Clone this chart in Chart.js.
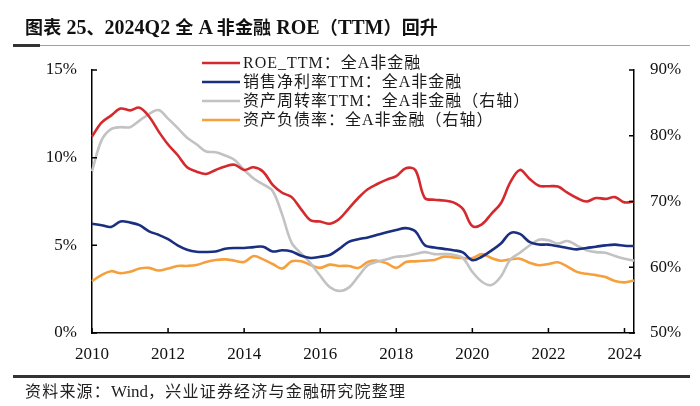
<!DOCTYPE html>
<html><head><meta charset="utf-8">
<script src="https://cdn.jsdelivr.net/npm/chart.js@4/dist/chart.umd.min.js"></script>
<style>
html,body{margin:0;padding:0;background:#fff;}
#wrap{position:relative;width:700px;height:406px;overflow:hidden;}
#c{position:absolute;left:0;top:0;}
#title{position:absolute;left:25px;top:13px;font:bold 20px 'Liberation Serif','Noto Sans CJK SC';line-height:26px;color:#111;white-space:nowrap;word-spacing:0px;}
#title .c{font:bold 18px 'Noto Sans CJK SC';letter-spacing:0.2px;}
#src{position:absolute;left:25px;top:378px;font:17px 'Liberation Serif','Noto Sans CJK SC';line-height:22px;color:#222;white-space:nowrap;}
#src .c{font:16px 'Noto Sans CJK SC';letter-spacing:1.2px;}
.ln{position:absolute;}
</style></head>
<body><div id="wrap">
<canvas id="c" width="700" height="406"></canvas>
<div id="title"><span class="c">图表</span> 25<span class="c">、</span>2024Q2 <span class="c">全</span> A <span class="c">非金融</span> ROE<span class="c">（</span>TTM<span class="c">）回升</span></div>
<div class="ln" style="left:40px;top:44.5px;width:650px;height:1.3px;background:#a0a0a0"></div>
<div class="ln" style="left:13px;top:43.5px;width:27px;height:3px;background:#333"></div>
<div class="ln" style="left:13px;top:375px;width:677px;height:2.7px;background:#333"></div>
<div id="src"><span class="c">资料来源：</span>Wind<span class="c">，兴业证券经济与金融研究院整理</span></div>
</div>
<script>
const quarters = ['2010Q1','2010Q2','2010Q3','2010Q4','2011Q1','2011Q2','2011Q3','2011Q4','2012Q1','2012Q2','2012Q3','2012Q4','2013Q1','2013Q2','2013Q3','2013Q4','2014Q1','2014Q2','2014Q3','2014Q4','2015Q1','2015Q2','2015Q3','2015Q4','2016Q1','2016Q2','2016Q3','2016Q4','2017Q1','2017Q2','2017Q3','2017Q4','2018Q1','2018Q2','2018Q3','2018Q4','2019Q1','2019Q2','2019Q3','2019Q4','2020Q1','2020Q2','2020Q3','2020Q4','2021Q1','2021Q2','2021Q3','2021Q4','2022Q1','2022Q2','2022Q3','2022Q4','2023Q1','2023Q2','2023Q3','2023Q4','2024Q1','2024Q2'];
const xTickYears = ['2010','2012','2014','2016','2018','2020','2022','2024'];
const roeTTM = [11.2,12.0,12.4,12.8,12.7,12.85,12.35,11.5,10.75,10.15,9.45,9.2,9.07,9.3,9.5,9.6,9.3,9.45,9.2,8.45,8.0,7.75,7.05,6.42,6.36,6.23,6.5,7.1,7.7,8.2,8.5,8.75,8.95,9.4,9.3,7.7,7.6,7.56,7.45,7.08,6.1,6.2,6.8,7.4,8.6,9.3,8.8,8.4,8.37,8.35,8.0,7.7,7.5,7.7,7.65,7.75,7.45,7.5];
const netMarginTTM = [6.23,6.15,6.05,6.36,6.3,6.15,5.8,5.6,5.35,5.0,4.75,4.63,4.62,4.65,4.8,4.85,4.85,4.9,4.92,4.65,4.72,4.65,4.4,4.28,4.35,4.45,4.8,5.2,5.35,5.45,5.6,5.75,5.88,5.98,5.8,5.0,4.88,4.8,4.72,4.6,4.15,4.35,4.7,5.1,5.7,5.65,5.2,5.05,5.04,4.95,4.85,4.77,4.85,4.92,5.0,5.04,4.98,4.96];
const assetTurnoverTTM = [74.6,79.3,81.0,81.3,81.3,82.3,83.3,83.9,82.6,81.2,79.7,78.7,77.6,77.5,77.0,76.3,74.8,73.5,72.6,71.6,68.0,63.7,62.1,60.6,58.7,57.0,56.4,56.9,58.6,60.3,60.85,61.2,61.6,61.7,62.0,62.3,62.0,62.0,61.9,61.4,59.3,57.8,57.3,58.6,61.2,62.2,63.3,64.2,64.1,63.6,64.0,63.3,62.6,62.3,62.2,61.7,61.3,61.0];
const debtRatio = [57.9,58.8,59.4,59.1,59.3,59.8,59.9,59.5,59.8,60.2,60.2,60.35,60.8,61.1,61.2,61.0,60.8,61.7,61.2,60.5,59.8,60.9,60.9,60.35,59.9,60.4,60.2,60.2,59.9,60.8,61.0,60.6,59.9,60.8,60.9,61.0,61.1,61.6,61.5,61.4,61.4,62.0,61.4,61.0,61.2,61.3,60.7,60.3,60.5,60.75,60.1,59.3,59.0,58.8,58.5,57.9,57.7,58.0];
const leftTicks = [0,5,10,15];
const rightTicks = [50,60,70,80,90];
const seriesNames = ['ROE_TTM：全A非金融','销售净利率TTM：全A非金融','资产周转率TTM：全A非金融（右轴）','资产负债率：全A非金融（右轴）'];
const seriesColors = ['#D42A2E','#1A2F80','#C2C2C2','#F5A03C'];

const tickFont = {family:"'Liberation Serif','Times New Roman',serif", size:17};

const inwardTicks = {
  id:'inwardTicks',
  afterDraw(chart){
    const ctx = chart.ctx, a = chart.chartArea;
    const L = 5;
    ctx.save();
    ctx.strokeStyle = '#000'; ctx.lineWidth = 1.5;
    const yl = chart.scales.y, yr = chart.scales.y1, x = chart.scales.x;
    ctx.beginPath();
    yl.ticks.forEach(t=>{const p=yl.getPixelForValue(t.value); ctx.moveTo(a.left,p); ctx.lineTo(a.left+L,p);});
    yr.ticks.forEach(t=>{const p=yr.getPixelForValue(t.value); ctx.moveTo(a.right,p); ctx.lineTo(a.right-L,p);});
    quarters.forEach((q,i)=>{ if (xTickYears.includes(q.slice(0,4)) && q.endsWith('Q1')) {const p=x.getPixelForValue(i); ctx.moveTo(p,a.bottom); ctx.lineTo(p,a.bottom-L);} });
    ctx.stroke();
    // legend
    ctx.font = "16px 'Liberation Serif','Noto Sans CJK SC'";
    try { ctx.letterSpacing = '1px'; } catch(e) {}
    ctx.textBaseline = 'middle'; ctx.textAlign = 'left'; ctx.fillStyle = '#1a1a1a';
    chart.data.datasets.forEach((ds,i)=>{
      const yy = 63 + i*19;
      ctx.strokeStyle = ds.borderColor; ctx.lineWidth = 2.5;
      ctx.beginPath(); ctx.moveTo(202,yy); ctx.lineTo(240,yy); ctx.stroke();
      ctx.fillText(ds.label, 243, yy+1);
    });
    ctx.restore();
  }
};

const series = [roeTTM, netMarginTTM, assetTurnoverTTM, debtRatio];
const axesFor = ['y','y','y1','y1'];

new Chart(document.getElementById('c'), {
  type:'line',
  data:{
    labels: quarters,
    datasets: series.map((d,i)=>({label:seriesNames[i], data:d, yAxisID:axesFor[i], borderColor:seriesColors[i], backgroundColor:seriesColors[i], borderWidth:2.6, pointRadius:0, tension:0.35, fill:false}))
  },
  options:{
    responsive:false, animation:false, devicePixelRatio:1,
    layout:{padding:{top:70,left:0,right:0,bottom:0}},
    plugins:{legend:{display:false}, tooltip:{enabled:false}, title:{display:false}},
    scales:{
      x:{type:'category', offset:false,
        grid:{display:false, drawTicks:false},
        border:{display:true,color:'#000',width:1.5},
        ticks:{autoSkip:false, maxRotation:0, minRotation:0, padding:11, color:'#111', font:tickFont,
          callback:function(v,i){const q=quarters[i]; return (q.endsWith('Q1') && xTickYears.includes(q.slice(0,4))) ? q.slice(0,4) : '';}},
        afterFit(s){ s.height = 73; }
      },
      y:{type:'linear', position:'left', min:0, max:15,
        grid:{display:false, drawTicks:false},
        border:{display:true,color:'#000',width:1.5},
        afterBuildTicks(s){ s.ticks = leftTicks.map(v=>({value:v})); },
        ticks:{padding:15, color:'#111', font:tickFont, callback:v=>v+'%'},
        afterFit(s){ s.width = 92; }
      },
      y1:{type:'linear', position:'right', min:50, max:90,
        grid:{display:false, drawTicks:false},
        border:{display:true,color:'#000',width:1.5},
        afterBuildTicks(s){ s.ticks = rightTicks.map(v=>({value:v})); },
        ticks:{padding:16, color:'#111', font:tickFont, callback:v=>v+'%'},
        afterFit(s){ s.width = 66; }
      }
    }
  },
  plugins:[inwardTicks]
});
</script>
</body></html>
